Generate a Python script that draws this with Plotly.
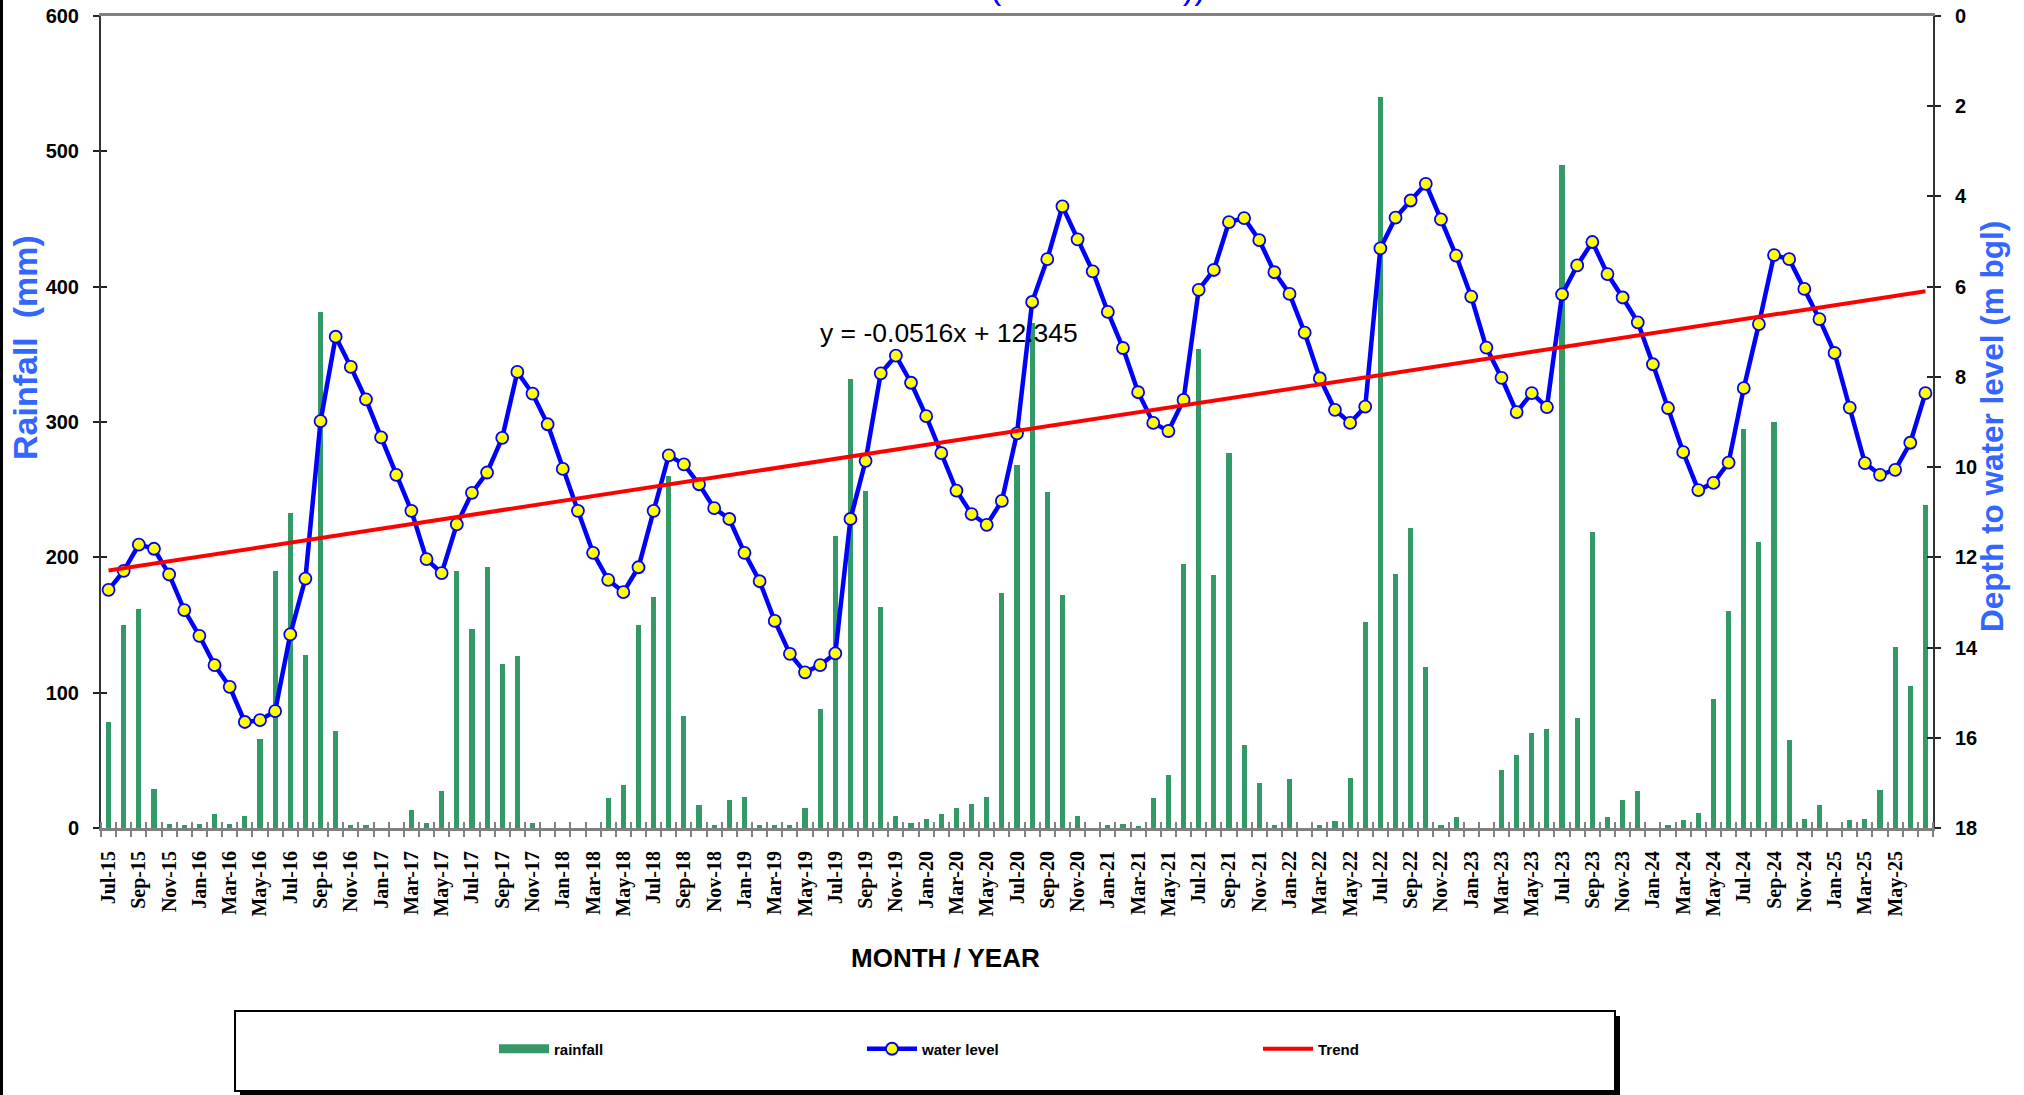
import plotly.graph_objects as go
import pandas as pd

# ---------------- data ----------------
months = list(pd.date_range("2015-07-01", periods=121, freq="MS").strftime("%b-%y"))

rainfall_mm = [78, 150, 162, 29, 3, 2, 3, 10, 3, 9, 66, 190, 233, 128, 381, 72, 2, 2, 0, 0,
               13, 4, 27, 190, 147, 193, 121, 127, 4, 0, 0, 0, 0, 22, 32, 150, 171, 260, 83, 17,
               2, 21, 23, 2, 2, 2, 15, 88, 216, 332, 249, 163, 9, 4, 7, 10, 15, 18, 23, 174,
               268, 373, 248, 172, 9, 0, 2, 3, 1, 22, 39, 195, 354, 187, 277, 61, 33, 2, 36, 0,
               2, 5, 37, 152, 540, 188, 222, 119, 2, 8, 0, 0, 43, 54, 70, 73, 490, 81, 219, 8,
               21, 27, 0, 2, 6, 11, 95, 160, 295, 211, 300, 65, 7, 17, 0, 6, 7, 28, 134, 105,
               239]

water_level_mbgl = [12.72, 12.30, 11.72, 11.81, 12.38, 13.17, 13.74, 14.39, 14.87, 15.65,
                    15.61, 15.41, 13.71, 12.47, 8.98, 7.11, 7.78, 8.50, 9.34, 10.17,
                    10.97, 12.04, 12.35, 11.27, 10.57, 10.12, 9.35, 7.89, 8.37, 9.05,
                    10.04, 10.97, 11.90, 12.50, 12.77, 12.22, 10.97, 9.74, 9.94, 10.38,
                    10.91, 11.15, 11.90, 12.53, 13.41, 14.14, 14.55, 14.39, 14.13, 11.15,
                    9.86, 7.92, 7.53, 8.13, 8.87, 9.69, 10.52, 11.04, 11.28, 10.75,
                    9.25, 6.34, 5.39, 4.22, 4.95, 5.66, 6.56, 7.36, 8.34, 9.02,
                    9.20, 8.51, 6.07, 5.63, 4.57, 4.48, 4.97, 5.68, 6.16, 7.02,
                    8.03, 8.73, 9.02, 8.66, 5.15, 4.47, 4.09, 3.72, 4.51, 5.31,
                    6.22, 7.35, 8.02, 8.78, 8.36, 8.67, 6.17, 5.53, 5.01, 5.72,
                    6.24, 6.79, 7.72, 8.69, 9.67, 10.51, 10.35, 9.90, 8.25, 6.83,
                    5.30, 5.39, 6.05, 6.72, 7.47, 8.68, 9.91, 10.17, 10.06, 9.46,
                    8.36]

trend_slope = -0.0516
trend_intercept = 12.345

rain_ticks = [0, 100, 200, 300, 400, 500, 600]
depth_ticks = [0, 2, 4, 6, 8, 10, 12, 14, 16, 18]

# ---------------- layout geometry ----------------
W, H = 2024, 1095
ML, MR, MT, MB = 101, 91, 16, 267
PW = W - ML - MR
PH = H - MT - MB


def px_x(p):
    return (p - ML) / PW


def px_y(p):
    return (H - MB - p) / PH


idx = list(range(len(months)))
trend = [trend_slope * (i + 1) + trend_intercept for i in idx]

GREEN = "#339966"
BLUE = "#0000FF"
TITLE_BLUE = "#3366FF"
SANS = "Liberation Sans, Arial, sans-serif"
SERIF = "Liberation Serif, Times New Roman, serif"

fig = go.Figure()

fig.add_trace(go.Bar(x=idx, y=rainfall_mm, width=0.34, marker=dict(color=GREEN, line=dict(width=0)),
                     name="rainfall", showlegend=False, yaxis="y"))

# legend swatch for rainfall (wide green block)
fig.add_trace(go.Scatter(x=[None], y=[None], mode="lines", line=dict(color=GREEN, width=9),
                         name="rainfall", legend="legend", yaxis="y"))

fig.add_trace(go.Scatter(x=idx, y=water_level_mbgl, mode="lines+markers", name="water level",
                         line=dict(color=BLUE, width=4.5),
                         marker=dict(size=12, color="#FFFF00", line=dict(color=BLUE, width=1.8)),
                         yaxis="y2", legend="legend2"))

fig.add_trace(go.Scatter(x=idx, y=trend, mode="lines", name="Trend",
                         line=dict(color="#FF0000", width=4), yaxis="y2", legend="legend3"))

# helper traces so that the tick-only overlay axes are drawn
fig.add_trace(go.Scatter(x=[None], y=[None], xaxis="x2", yaxis="y3", showlegend=False, hoverinfo="skip"))
fig.add_trace(go.Scatter(x=[None], y=[None], xaxis="x", yaxis="y4", showlegend=False, hoverinfo="skip"))

xr = [-0.5, len(months) - 0.5]
tickvals = idx[:-1:2]
ticktext = months[:-1:2]
boundaries = [i - 0.5 for i in range(len(months) + 1)]

leg_common = dict(orientation="h", bgcolor="rgba(0,0,0,0)", borderwidth=0, itemwidth=50,
                  font=dict(family=SANS, size=15, color="black", weight="bold"),
                  yanchor="middle", xanchor="left", y=px_y(1049))

fig.update_layout(
    width=W, height=H,
    margin=dict(l=ML, r=MR, t=MT, b=MB, autoexpand=False),
    paper_bgcolor="white", plot_bgcolor="white",
    bargap=0,
    xaxis=dict(range=xr, tickmode="array", tickvals=tickvals, ticktext=ticktext, automargin=False,
               tickangle=-90, ticks="", ticklabelstandoff=12,
               tickfont=dict(family=SERIF, size=20, color="black", weight="bold"),
               showline=True, linecolor="#808080", linewidth=3, mirror=True,
               showgrid=False, zeroline=False,
               minor=dict(tickmode="array", tickvals=boundaries, ticks="outside", ticklen=6,
                          tickwidth=2, tickcolor="#808080", showgrid=False)),
    xaxis2=dict(range=xr, overlaying="x", matches="x", showticklabels=False, showline=False,
                automargin=False, showgrid=False, zeroline=False, tickmode="array", tickvals=[], ticks="",
                minor=dict(tickmode="array", tickvals=boundaries, ticks="inside", ticklen=6,
                           tickwidth=2, tickcolor="#808080", showgrid=False)),
    yaxis=dict(range=[0, 600], tickmode="array", tickvals=rain_ticks, ticks="outside", ticklen=6,
               tickwidth=1.5, tickcolor="#222222", ticklabelstandoff=10, automargin=False,
               tickfont=dict(family=SANS, size=20, color="black", weight="bold"),
               showline=True, linecolor="#333333", linewidth=2, showgrid=False, zeroline=False),
    yaxis2=dict(range=[18, 0], overlaying="y", side="right", tickmode="array", tickvals=depth_ticks,
                ticks="outside", ticklen=6, tickwidth=1.5, tickcolor="#222222", ticklabelstandoff=10,
                automargin=False,
                tickfont=dict(family=SANS, size=20, color="black", weight="bold"),
                showline=True, linecolor="#333333", linewidth=2, showgrid=False, zeroline=False),
    yaxis3=dict(range=[0, 600], overlaying="y", side="left", anchor="x2", tickmode="array",
                tickvals=rain_ticks, ticks="inside", ticklen=6, tickwidth=1.5, tickcolor="#222222",
                automargin=False,
                showticklabels=False, showline=False, showgrid=False, zeroline=False),
    yaxis4=dict(range=[18, 0], overlaying="y", side="right", tickmode="array", tickvals=depth_ticks,
                ticks="inside", ticklen=6, tickwidth=1.5, tickcolor="#222222", automargin=False,
                showticklabels=False, showline=False, showgrid=False, zeroline=False),
    legend=dict(leg_common, x=px_x(494)),
    legend2=dict(leg_common, x=px_x(862)),
    legend3=dict(leg_common, x=px_x(1258)),
)

# legend frame with shadow
fig.add_shape(type="rect", xref="paper", yref="paper",
              x0=px_x(240), x1=px_x(1620), y0=px_y(1096), y1=px_y(1016),
              fillcolor="black", line=dict(width=0), layer="below")
fig.add_shape(type="rect", xref="paper", yref="paper",
              x0=px_x(235), x1=px_x(1615), y0=px_y(1091), y1=px_y(1011),
              fillcolor="white", line=dict(color="black", width=2), layer="below")

# outer frame at left edge
fig.add_shape(type="line", xref="paper", yref="paper", x0=px_x(1.5), x1=px_x(1.5),
              y0=px_y(0), y1=px_y(H), line=dict(color="black", width=3))

ann = []
# chart title, almost entirely above the visible page (only its lowest strokes show)
ann.append(dict(text="(2015 - 2025))", xref="paper", yref="paper", x=px_x(1097), y=px_y(-13),
                showarrow=False, xanchor="center", yanchor="middle",
                font=dict(family=SANS, size=34, color="#0000FF")))
ann.append(dict(text="Rainfall  (mm)", xref="paper", yref="paper", x=px_x(25), y=px_y(348),
                textangle=-90, showarrow=False, xanchor="center", yanchor="middle",
                font=dict(family=SANS, size=34, color=TITLE_BLUE, weight="bold")))
ann.append(dict(text="Depth to water level (m bgl)", xref="paper", yref="paper", x=px_x(1992),
                y=px_y(426), textangle=-90, showarrow=False, xanchor="center", yanchor="middle",
                font=dict(family=SANS, size=31.5, color=TITLE_BLUE, weight="bold")))
ann.append(dict(text="MONTH / YEAR", xref="paper", yref="paper", x=px_x(945), y=px_y(958),
                showarrow=False, xanchor="center", yanchor="middle",
                font=dict(family=SANS, size=26, color="black", weight="bold")))
ann.append(dict(text="y = -0.0516x + 12.345", xref="paper", yref="paper", x=px_x(949), y=px_y(333),
                showarrow=False, xanchor="center", yanchor="middle",
                font=dict(family=SANS, size=26.5, color="black")))
fig.update_layout(annotations=ann)

fig.write_html("out.html", config={"responsive": False, "displayModeBar": False},
               post_script="document.body.style.margin='0px';document.body.style.overflow='hidden';")
